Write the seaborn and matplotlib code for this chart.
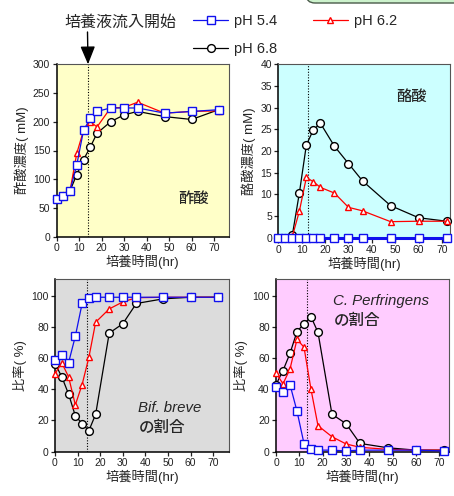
import matplotlib
matplotlib.use("Agg")
import matplotlib.pyplot as plt
import matplotlib.patches as mpatches
import seaborn as sns
import pandas as pd

sns.set_style("ticks")
plt.rcParams['font.family'] = ['Liberation Sans', 'Noto Sans CJK JP', 'DejaVu Sans']

# ---------------- data ----------------
time_hr = [0, 3, 6, 9, 12, 15, 18, 24, 30, 36, 48, 60, 72]

acetic_ph54 = [65, 70, 80, 125, 185, 206, 218, 224, 224, 224, 215, 218, 221]
acetic_ph62 = [65, 70, 80, 145, 185, 200, 191, 224, 225, 234, 215, 218, 219]
acetic_ph68 = [65, 70, 80, 108, 134, 156, 180, 200, 212, 218, 209, 204, 221]

butyric_ph54 = [0, 0, 0, 0, 0, 0, 0, 0, 0, 0, 0, 0, 0]
butyric_ph62 = [0, 0, 0.3, 6.1, 13.9, 12.9, 11.6, 10.3, 7.0, 6.2, 3.7, 3.8, 3.8]
butyric_ph68 = [0, 0, 0.6, 10.3, 21.4, 24.9, 26.4, 21.1, 17.1, 13.1, 7.4, 4.6, 3.8]

bif_ph54 = [58.5, 62, 57, 74, 95, 98.3, 99, 99, 99, 99, 99, 99, 99]
bif_ph62 = [50, 57, 48, 30, 43, 60.5, 83, 91.5, 96, 98.7, 99, 99, 99]
bif_ph68 = [56.5, 48, 37, 23, 18, 13.5, 24, 76, 82, 95, 98, 99, 99]

cp_ph54 = [41.5, 38.3, 43, 26, 5.2, 2, 1, 1, 0.5, 1, 1, 1, 0.5]
cp_ph62 = [50.5, 43.5, 53, 72, 67, 40, 16.7, 9.6, 5, 2.8, 1.5, 1, 1]
cp_ph68 = [43, 52, 63, 77, 82, 86.5, 76.5, 24, 18, 5.3, 2.5, 1, 1]

series_labels = ["pH 5.4", "pH 6.2", "pH 6.8"]
feed_start_hr = [14, 12.5, 14.2, 13.4]

panel_ylabels = ["酢酸濃度( mM)", "酪酸濃度( mM)", "比率( %)", "比率( %)"]
xlabel_text = "培養時間(hr)"
feed_label = "培養液流入開始"

# ---------------- figure ----------------
W, H = 454, 496
fig = plt.figure(figsize=(W / 100, H / 100), dpi=100)

def px_axes(l, r, t, b):
    return fig.add_axes([l / W, 1 - b / H, (r - l) / W, (b - t) / H])

axes = [
    px_axes(56.5, 229, 64.3, 236.7),
    px_axes(278.3, 450, 64.3, 239.0),
    px_axes(55, 228.7, 279, 451.7),
    px_axes(276, 449.3, 279, 451.7),
]
bg = ['#ffffc8', '#ccffff', '#dcdcdc', '#ffccff']
xlims = [(0, 76.6), (0, 73.4), (0, 76.9), (0, 74.3)]
ylims = [(0, 300), (-0.3, 40), (0, 110.7), (0, 110.7)]
yticks = [range(0, 301, 50), range(0, 41, 5), range(0, 101, 20), range(0, 101, 20)]

data_sets = [
    (acetic_ph54, acetic_ph62, acetic_ph68),
    (butyric_ph54, butyric_ph62, butyric_ph68),
    (bif_ph54, bif_ph62, bif_ph68),
    (cp_ph54, cp_ph62, cp_ph68),
]

styles = {
    "pH 6.8": dict(color='black', marker='o', markersize=5.6),
    "pH 6.2": dict(color='#ff0000', marker='^', markersize=3.8),
    "pH 5.4": dict(color='#1010ee', marker='s', markersize=5.8),
}

legend_handles = {}
for i, ax in enumerate(axes):
    ax.set_facecolor(bg[i])
    s54, s62, s68 = data_sets[i]
    df = pd.DataFrame({"t": time_hr, "pH 5.4": s54, "pH 6.2": s62, "pH 6.8": s68})
    for lab in ["pH 6.8", "pH 6.2", "pH 5.4"]:
        st = styles[lab]
        lwv = 2.2 if (i == 1 and lab == "pH 5.4") else 0.9
        sns.lineplot(data=df, x="t", y=lab, ax=ax, color=st['color'], marker=st['marker'],
                     markersize=st['markersize'], markerfacecolor='white',
                     markeredgecolor=st['color'], markeredgewidth=1.0, linewidth=lwv,
                     sort=False, clip_on=False, label=lab, zorder=5)
    if i == 0:
        for h in ax.get_lines():
            legend_handles[h.get_label()] = h
    if ax.get_legend():
        ax.get_legend().remove()
    ax.axvline(feed_start_hr[i], color='black', linestyle=(0, (1, 1.5)), lw=0.8, zorder=2)
    ax.set_xlim(*xlims[i])
    ax.set_ylim(*ylims[i])
    ax.set_xticks(range(0, 71, 10))
    ax.set_yticks(list(yticks[i]))
    ax.tick_params(direction='out', length=3, width=0.9, labelsize=7.5, colors='#222222', pad=1.5)
    ax.set_xlabel(xlabel_text, fontsize=9.5, labelpad=1)
    ax.set_ylabel(panel_ylabels[i], fontsize=9.5, labelpad=3)
    for side in ['left', 'bottom']:
        ax.spines[side].set_color('black')
        ax.spines[side].set_linewidth(1.1)
    for side in ['top', 'right']:
        ax.spines[side].set_visible(True)
        ax.spines[side].set_color('#555555')
        ax.spines[side].set_linewidth(0.8)

cjk = ['Noto Sans CJK JP']
# panel annotations
axes[0].text(60.7, 66, "酢酸", fontsize=11, fontweight='medium', ha='center', va='center', family=cjk)
axes[1].text(57, 32.5, "酪酸", fontsize=11, fontweight='medium', ha='center', va='center', family=cjk)
axes[2].text(36.9, 28, "Bif. breve", fontsize=10.8, style='italic', ha='left', va='center')
axes[2].text(36.9, 15.4, "の割合", fontsize=11.2, fontweight='medium', ha='left', va='center', family=cjk)
axes[3].text(24.6, 96.6, "C. Perfringens", fontsize=10.8, style='italic', ha='left', va='center')
axes[3].text(24.6, 83.8, "の割合", fontsize=11.2, fontweight='medium', ha='left', va='center', family=cjk)

# feed-start arrow and label
fig.text(120.5 / W, 1 - 22.7 / H, feed_label, fontsize=11.5, ha='center', va='center', family=cjk)
axes[0].annotate('', xy=(feed_start_hr[0], 300), xycoords='data',
                 xytext=(87.5 / W, 1 - 32 / H), textcoords='figure fraction',
                 arrowprops=dict(arrowstyle='-|>,head_width=0.45,head_length=1.1',
                                 color='black', lw=1.0, shrinkA=0, shrinkB=0),
                 annotation_clip=False)

# legend
hs = [legend_handles["pH 5.4"], legend_handles["pH 6.8"], legend_handles["pH 6.2"]]
fig.legend(hs, ["pH 5.4", "pH 6.8", "pH 6.2"], ncol=2, frameon=False,
           loc='upper left', bbox_to_anchor=(186 / W, 1 - 7 / H),
           fontsize=10.5, handlelength=2.4, handletextpad=0.42, columnspacing=2.42,
           labelspacing=0.94, borderpad=0)

# partially visible green box at top right
box = mpatches.FancyBboxPatch((3.06, 4.93), 2.0, 0.3, boxstyle='round,pad=0,rounding_size=0.09',
                              transform=fig.dpi_scale_trans, fc='#ccf2cc', ec='#4a5a4a', lw=1.0)
fig.patches.append(box)

fig.savefig("out.png", dpi=100)
